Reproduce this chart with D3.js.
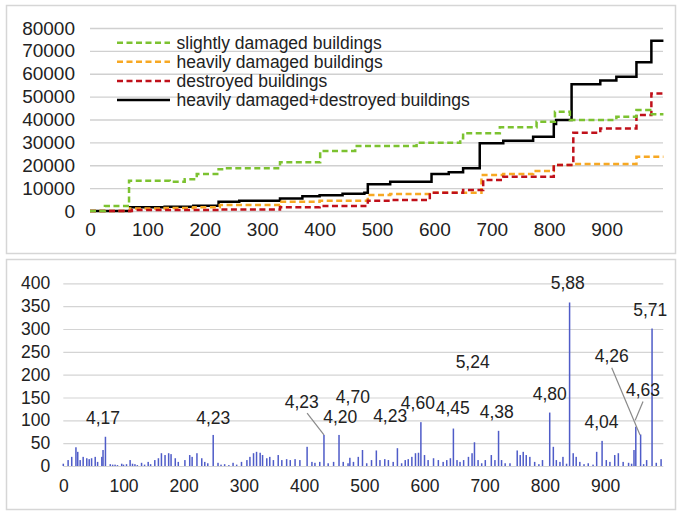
<!DOCTYPE html>
<html>
<head>
<meta charset="utf-8">
<script src="https://cdn.jsdelivr.net/npm/d3@7"></script>
<style>
  body { margin: 0; background: #fff; }
  text { font-family: "Liberation Sans", Arial, Helvetica, sans-serif; fill: #222; }
</style>
</head>
<body>
<div id="chart"></div>
<script>
// ---- data ----
const xTicks = [0, 100, 200, 300, 400, 500, 600, 700, 800, 900];
const topYTicks = [0, 10000, 20000, 30000, 40000, 50000, 60000, 70000, 80000];
const botYTicks = [0, 50, 100, 150, 200, 250, 300, 350, 400];

const seriesNames = [
  "slightly damaged buildings",
  "heavily damaged buildings",
  "destroyed buildings",
  "heavily damaged+destroyed buildings"
];

// step series: index where the level changes, and the level
const slightX = [0, 26, 68, 139, 165, 186, 224, 235, 331, 401, 462, 569, 645, 650, 714, 778, 810, 836, 917, 952, 976, 999];
const slightY = [0, 2200, 13240, 12800, 13850, 16170, 18220, 18660, 21280, 26220, 28400, 29850, 31800, 34000, 36600, 39000, 43400, 39800, 41200, 44100, 42250, 42250];

const heavyX = [0, 70, 130, 180, 226, 331, 400, 484, 523, 595, 682, 720, 772, 808, 842, 952, 999];
const heavyY = [0, 1100, 1300, 1600, 2600, 4070, 4500, 7000, 7400, 8000, 15700, 16200, 17500, 20100, 20500, 23700, 23700];

const destroyedX = [0, 73, 226, 331, 400, 484, 523, 592, 650, 685, 720, 808, 842, 889, 952, 978, 999];
const destroyedY = [0, 400, 700, 1600, 2200, 4500, 4800, 8000, 9200, 13550, 15000, 20100, 34200, 36100, 42000, 51400, 51400];

const sumX = [0, 70, 130, 180, 224, 260, 331, 370, 400, 440, 478, 484, 523, 595, 625, 650, 679, 720, 772, 808, 812, 839, 889, 917, 952, 978, 999];
const sumY = [0, 1600, 1900, 2300, 4000, 4500, 5500, 6500, 6900, 7500, 8000, 11660, 12800, 16170, 16900, 18660, 29570, 30700, 32500, 38000, 39800, 55400, 57000, 58700, 65000, 74400, 74400];

// bottom chart bars
const barX = [0, 8, 14, 21, 24, 28, 33, 39, 43, 47, 53, 57, 64, 66, 70, 78, 82, 86, 90, 97, 100, 105, 111, 115, 119, 123, 130, 135, 141, 145,
  152, 158, 163, 169, 175, 179, 186, 191, 202, 210, 214, 222, 230, 235, 240, 249, 257, 262, 268, 275, 282, 288, 296, 305, 310, 316,
  321, 327, 331, 338, 343, 349, 357, 363, 371, 377, 385, 393, 405, 413, 418, 426, 433, 440, 449, 458, 465, 473, 476, 482, 490, 497,
  504, 512, 520, 526, 534, 540, 548, 555, 562, 568, 573, 579, 585, 590, 594, 600, 606, 615, 623, 631, 637, 643, 648, 654, 659, 665,
  673, 679, 683, 689, 695, 701, 711, 717, 723, 728, 734, 742, 754, 759, 764, 769, 775, 783, 790, 796, 808, 814, 819, 825, 830, 836,
  841, 847, 852, 858, 865, 872, 880, 886, 895, 902, 908, 916, 922, 930, 939, 944, 948, 951, 959, 964, 969, 978, 985, 993];
const barY = [5, 13, 20, 41, 31, 13, 20, 17, 15, 17, 20, 9, 20, 35, 64, 4, 3, 3, 2, 5, 3, 4, 13, 5, 4, 2, 7, 3, 9, 4,
  13, 17, 28, 24, 28, 26, 17, 9, 13, 24, 20, 28, 17, 9, 6, 68, 7, 3, 4, 2, 7, 3, 9, 13, 20, 28,
  31, 29, 24, 17, 20, 13, 24, 13, 15, 13, 15, 13, 42, 9, 7, 9, 68, 6, 9, 68, 9, 6, 18, 9, 20, 35,
  6, 13, 34, 13, 15, 13, 9, 39, 6, 13, 15, 20, 28, 29, 96, 24, 13, 17, 13, 9, 13, 17, 82, 13, 9, 13,
  20, 28, 52, 13, 6, 13, 24, 13, 77, 13, 6, 6, 34, 24, 31, 24, 20, 9, 4, 13, 117, 42, 13, 9, 20, 5,
  358, 28, 20, 9, 4, 6, 3, 31, 55, 13, 9, 24, 28, 9, 7, 5, 35, 86, 69, 4, 13, 301, 7, 15];

// value labels above the bars: text, position (index, value)
const labelText = ["4,17", "4,23", "4,23", "4,20", "4,70", "4,23", "4,60", "4,45", "5,24", "4,38", "4,80", "5,88", "4,04", "4,26", "4,63", "5,71"];
const labelX = [66, 249, 396, 460, 481, 543, 589, 647, 680, 720, 808, 838, 894, 911, 963, 975];
const labelY = [105, 105, 141, 108, 152, 110, 138, 127, 228, 118, 158, 400, 97, 241, 166, 342];
// leader lines for crowded labels: [fromX, fromY, toX, toY] in data units
const leaders = [[405, 116, 433, 68], [911, 215, 958, 68], [963, 141, 950, 100]];

// ---- drawing ----
const W = 677, H = 511;
const colors = ["#7cc230", "#f7a823", "#c0101a", "#000000"];
const dashed = [true, true, true, false];

const svg = d3.select("#chart").append("svg").attr("width", W).attr("height", H);

// panel frames
svg.append("rect").attr("x", 6.5).attr("y", 5.5).attr("width", 669).attr("height", 248)
  .attr("fill", "none").attr("stroke", "#d6d6d6").attr("stroke-width", 1.5);
svg.append("rect").attr("x", 6.5).attr("y", 259.5).attr("width", 669).attr("height", 250)
  .attr("fill", "none").attr("stroke", "#d6d6d6").attr("stroke-width", 1.5);

// top chart
const xTop = d3.scaleLinear().domain([0, 1000]).range([90, 664]);
const yTop = d3.scaleLinear().domain([0, 80000]).range([211, 28]);

const gyTop = svg.append("g").attr("transform", "translate(90,0)")
  .call(d3.axisLeft(yTop).tickValues(topYTicks).tickFormat(d3.format("d"))
    .tickSize(-573).tickPadding(15));
gyTop.select(".domain").remove();
gyTop.selectAll("line").attr("stroke", "#d0d0d0").attr("stroke-width", 1.3);
gyTop.selectAll("text").style("font-size", "19px").attr("fill", "#222");

const gxTop = svg.append("g").attr("transform", "translate(0,211)")
  .call(d3.axisBottom(xTop).tickValues(xTicks).tickSize(0).tickPadding(12));
gxTop.select(".domain").remove();
gxTop.selectAll("text").style("font-size", "19px").attr("fill", "#222");

const stepLine = d3.line()
  .x(d => xTop(d[0])).y(d => yTop(d[1]))
  .curve(d3.curveStepAfter);

const series = [
  d3.zip(slightX, slightY),
  d3.zip(heavyX, heavyY),
  d3.zip(destroyedX, destroyedY),
  d3.zip(sumX, sumY)
];

// solid sum line underneath, dashed ones over it
[3, 1, 2, 0].forEach(i => {
  svg.append("path")
    .datum(series[i])
    .attr("d", stepLine)
    .attr("fill", "none")
    .attr("stroke", colors[i])
    .attr("stroke-width", 2.5)
    .attr("stroke-dasharray", dashed[i] ? "6,3.5" : null);
});

// legend
const legend = svg.append("g");
seriesNames.forEach((name, i) => {
  const yy = 42.7 + i * 19.1;
  legend.append("line")
    .attr("x1", 117).attr("x2", 170).attr("y1", yy).attr("y2", yy)
    .attr("stroke", colors[i]).attr("stroke-width", 2.5)
    .attr("stroke-dasharray", dashed[i] ? "6,3.5" : null);
  legend.append("text")
    .attr("x", 176.5).attr("y", yy).attr("dy", "0.35em")
    .style("font-size", "17.5px")
    .text(name);
});

// bottom chart
const xBot = d3.scaleLinear().domain([0, 1000]).range([63.3, 665.3]);
const yBot = d3.scaleLinear().domain([0, 400]).range([466, 283.3]);

const gyBot = svg.append("g").attr("transform", "translate(63.3,0)")
  .call(d3.axisLeft(yBot).tickValues(botYTicks).tickSize(-600).tickPadding(13));
gyBot.select(".domain").remove();
gyBot.selectAll("line").attr("stroke", "#d4d4d4").attr("stroke-width", 1.2);
gyBot.selectAll("text").style("font-size", "17.5px").attr("fill", "#222");

const gxBot = svg.append("g").attr("transform", "translate(0,466)")
  .call(d3.axisBottom(xBot).tickValues(xTicks).tickSize(0).tickPadding(14));
gxBot.select(".domain").remove();
gxBot.selectAll("text").style("font-size", "17.5px").attr("fill", "#222");

svg.append("g")
  .selectAll("rect")
  .data(d3.zip(barX, barY))
  .join("rect")
  .attr("x", d => xBot(d[0]) - 0.75)
  .attr("width", 1.5)
  .attr("y", d => yBot(d[1]))
  .attr("height", d => yBot(0) - yBot(d[1]))
  .attr("fill", "#4f5cc8");

svg.append("g")
  .selectAll("line")
  .data(leaders)
  .join("line")
  .attr("x1", d => xBot(d[0])).attr("y1", d => yBot(d[1]))
  .attr("x2", d => xBot(d[2])).attr("y2", d => yBot(d[3]))
  .attr("stroke", "#8a8a8a").attr("stroke-width", 1.2);

svg.append("g")
  .selectAll("text")
  .data(labelText.map((t, i) => ({ t, x: labelX[i], y: labelY[i] })))
  .join("text")
  .attr("x", d => xBot(d.x))
  .attr("y", d => yBot(d.y))
  .attr("dy", "0.35em")
  .attr("text-anchor", "middle")
  .style("font-size", "17.5px")
  .text(d => d.t);
</script>
</body>
</html>
